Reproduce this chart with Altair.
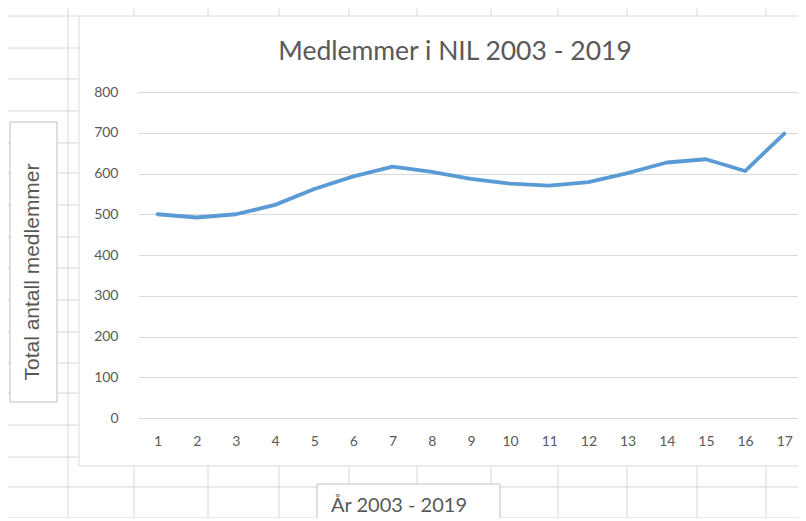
import altair as alt
import pandas as pd

# ---- data ----
years = list(range(1, 18))
members = [500, 492, 500, 523, 562, 593, 617, 604, 587, 575, 570, 579, 601, 627, 635, 606, 698]
y_ticks = [0, 100, 200, 300, 400, 500, 600, 700, 800]
title_text = "Medlemmer i NIL 2003 - 2019"
x_title = "År 2003 - 2019"
y_title = "Total antall medlemmer"

# ---- layout (page pixels) ----
OX, OY = 138, 92          # plot-area origin on the page
W, H = 660, 326
PAD_L, PAD_T = OX - 8, OY - 8
TOTAL_H = 510

GRID = "#d9d9d9"
SHEET = "#d6d6d6"
TXT = "#595959"
BLUE = "#5b9bd5"

df = pd.DataFrame({"Year": years, "Members": members})

# spreadsheet background lines (page coordinates)
sheet_rows_left = [16, 48, 79, 111, 143, 173, 205, 237, 268, 300, 332, 363, 393, 425, 457]
sheet_rows_full = [487, 518]
sheet_cols = [134, 208, 279, 349, 417, 491, 558, 627, 697, 766]

segs = []
for yy in sheet_rows_left:
    segs.append((8, yy, 79, yy))
for yy in sheet_rows_full:
    segs.append((8, yy, 806, yy))
segs.append((68, 8, 68, 521))
for xx in sheet_cols:
    segs.append((xx, 466, xx, 521))
    segs.append((xx, 8, xx, 16))
seg_df = pd.DataFrame(
    [{"x": a - OX, "y": b - OY, "x2": c - OX, "y2": d - OY} for a, b, c, d in segs]
)

sheet = alt.Chart(seg_df).mark_rule(color=SHEET, strokeWidth=1).encode(
    x=alt.X("x:Q", scale=None, axis=None),
    x2="x2:Q",
    y=alt.Y("y:Q", scale=None, axis=None),
    y2="y2:Q",
)

box_df = pd.DataFrame([
    {"x": 79 - OX, "y": 16 - OY, "x2": 810 - OX, "y2": 466 - OY},
])
chart_box = alt.Chart(box_df).mark_rect(fillOpacity=0, stroke=GRID, strokeWidth=1).encode(
    x=alt.X("x:Q", scale=None, axis=None), x2="x2:Q",
    y=alt.Y("y:Q", scale=None, axis=None), y2="y2:Q",
)

tbox_df = pd.DataFrame([
    {"x": 10 - OX, "y": 122 - OY, "x2": 57 - OX, "y2": 402 - OY},
    {"x": 317 - OX, "y": 484 - OY, "x2": 500 - OX, "y2": 540 - OY},
])
title_boxes = alt.Chart(tbox_df).mark_rect(fill="white", stroke="#bfbfbf", strokeWidth=1).encode(
    x=alt.X("x:Q", scale=None, axis=None), x2="x2:Q",
    y=alt.Y("y:Q", scale=None, axis=None), y2="y2:Q",
)

title_mark = alt.Chart(pd.DataFrame({"t": [title_text]})).mark_text(
    font="Lato", fontSize=26.5, color=TXT, align="center", baseline="alphabetic"
).encode(x=alt.value(455 - OX), y=alt.value(60 - OY), text="t:N")

xtitle_mark = alt.Chart(pd.DataFrame({"t": [x_title]})).mark_text(
    font="Lato", fontSize=20, color=TXT, align="center", baseline="middle"
).encode(x=alt.value(399 - OX), y=alt.value(506 - OY), text="t:N")

ytitle_mark = alt.Chart(pd.DataFrame({"t": [y_title]})).mark_text(
    font="Liberation Sans", fontSize=21, color=TXT, align="center", baseline="middle", angle=270
).encode(x=alt.value(33 - OX), y=alt.value(272 - OY), text="t:N")

line = alt.Chart(df).mark_line(color=BLUE, strokeWidth=3.8, strokeCap="round", strokeJoin="round").encode(
    x=alt.X(
        "Year:Q",
        scale=alt.Scale(domain=[0.5, 17.35], nice=False, zero=False),
        axis=alt.Axis(
            values=years, format="d", grid=False, domain=False, ticks=False,
            labelFont="Lato", labelFontSize=14, labelColor=TXT, labelPadding=16,
            title=None, labelFlush=False,
        ),
    ),
    y=alt.Y(
        "Members:Q",
        scale=alt.Scale(domain=[0, 800], nice=False),
        axis=alt.Axis(
            values=y_ticks, grid=True, gridColor=GRID, gridWidth=1, domain=False, ticks=False,
            labelFont="Lato", labelFontSize=14, labelColor=TXT, labelPadding=20,
            title=None,
        ),
    ),
)

chart = (
    alt.layer(sheet, chart_box, title_boxes, title_mark, xtitle_mark, ytitle_mark, line)
    .resolve_scale(x="independent", y="independent")
    .properties(
        width=W, height=H,
        autosize=alt.AutoSizeParams(type="none"),
        padding={"left": PAD_L, "top": PAD_T, "right": 790 - PAD_L - W, "bottom": TOTAL_H - PAD_T - H},
        background="white",
    )
    .configure_view(stroke=None)
)

chart.save("out.html", embed_options={"renderer": "svg", "actions": False})
